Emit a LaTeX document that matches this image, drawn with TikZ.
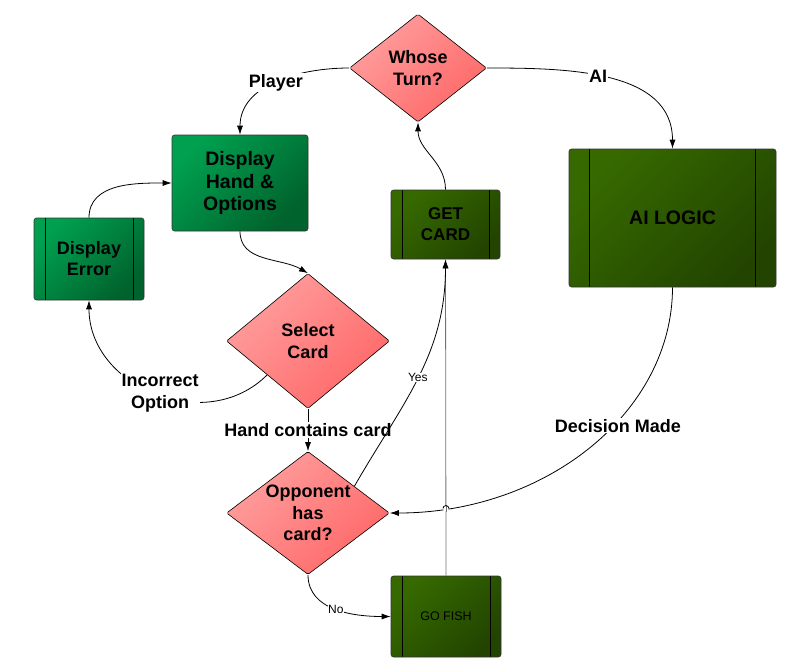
\documentclass[tikz,border=0pt]{standalone}
\usepackage{fontspec}
\setmainfont{Liberation Sans}
\usetikzlibrary{
  calc,
  positioning,
  arrows.meta,
  shapes.geometric,
  intersections}

\definecolor{pinkA}{RGB}{255,158,158}
\definecolor{pinkB}{RGB}{255,104,104}
\definecolor{greenA}{RGB}{0,160,80}
\definecolor{greenB}{RGB}{0,98,44}
\definecolor{oliveA}{RGB}{54,106,0}
\definecolor{oliveB}{RGB}{34,68,0}

\begin{document}
\begin{tikzpicture}[
  x=1pt, y=1pt,
  >={Latex[length=9pt,width=6pt]},
  line width=0.8pt,
  decision/.style={diamond,draw=black,line width=0.6pt,inner sep=0pt,rounded corners=1.5pt,
    top color=pinkA,bottom color=pinkB,shading angle=45,align=center,
    font=\bfseries\fontsize{18}{21.5}\selectfont},
  greenbox/.style={rectangle,draw=black!80,line width=0.6pt,rounded corners=2.5pt,
    top color=greenA,bottom color=greenB,shading angle=45,align=center,
    font=\bfseries\fontsize{18}{21}\selectfont},
  olivebox/.style={rectangle,draw=black!80,line width=0.6pt,rounded corners=2.5pt,
    top color=oliveA,bottom color=oliveB,shading angle=45,align=center,
    font=\bfseries\fontsize{17}{21}\selectfont},
  subproc/.style={path picture={
    \draw[black,line width=0.6pt]
      ($(path picture bounding box.north west)!0.1!(path picture bounding box.north east)$) --
      ($(path picture bounding box.south west)!0.1!(path picture bounding box.south east)$)
      ($(path picture bounding box.north east)!0.1!(path picture bounding box.north west)$) --
      ($(path picture bounding box.south east)!0.1!(path picture bounding box.south west)$);
  }},
  lbl/.style={fill=white,inner sep=1pt,align=center,font=\bfseries\fontsize{18}{22}\selectfont},
  smalllbl/.style={fill=white,inner sep=0.5pt,font=\fontsize{12}{14}\selectfont}
]%
  \useasboundingbox (0,0) rectangle (786,-664);

  % decisions
  \node[decision,aspect=1.27,minimum width=137pt,minimum height=108pt] (turn) at (418,-68) {Whose\\Turn?};
  \node[decision,aspect=1.21,minimum width=163pt,minimum height=135pt] (sel) at (308,-341) {Select\\Card};
  \node[decision,aspect=1.32,minimum width=163pt,minimum height=123pt] (opp) at (308,-513) {Opponent\\has\\card?};

  % boxes
  \node[greenbox,minimum width=136pt,minimum height=96pt,font=\bfseries\fontsize{19.5}{22.5}\selectfont] (hand) at (240,-183) {Display\\Hand \&\\Options};
  \node[greenbox,subproc,minimum width=110pt,minimum height=82pt] (err) at (89,-259) {Display\\Error};
  \node[olivebox,subproc,minimum width=109pt,minimum height=69pt] (get) at (445.5,-224.5) {GET\\CARD};
  \node[olivebox,subproc,minimum width=207pt,minimum height=138pt,font=\bfseries\fontsize{19.5}{22}\selectfont] (ai) at (672.5,-218) {AI LOGIC};
  \node[olivebox,subproc,minimum width=110pt,minimum height=81pt,font=\fontsize{12.5}{15}\selectfont] (fish) at (446,-616.5) {GO FISH};

  % connectors
  \draw[->] (turn.west) to[out=180,in=90] node[lbl]{Player} (hand.north);
  \draw[->] (turn.east) to[out=0,in=90] node[lbl,pos=0.45]{AI} (ai.north);
  \draw[->] (hand.south) to[out=-90,in=150] (sel.north);
  \draw[->] (err.north) to[out=90,in=180] (hand.west);
  \draw[->] (sel.south west) to[out=-135,in=-90,looseness=1.15] node[lbl,xshift=5pt]{Incorrect\\Option} (err.south);
  \draw[->] (sel.south) -- node[lbl]{Hand contains card} (opp.north);
  \draw[->,black!55,name path=fishline] (fish.north) -- (get.south);
  \draw[->] (opp.30) to[out=60,in=-90] node[smalllbl]{Yes} (get.south);
  \draw[->] (get.north) to[out=90,in=-90] (turn.south);
  \draw[->,name path=decline] (ai.south) .. controls +(0,-125) and +(156,0) .. node[lbl,pos=0.4,yshift=-5pt]{Decision Made} (opp.east);
  \draw[->] (opp.south) to[out=-90,in=180] node[smalllbl]{No} (fish.west);

  % line hop
  \path[name intersections={of=fishline and decline,by=hop}];
  \fill[white] (hop) circle (3);
  \draw[black!55] ($(hop)+(0,3.5)$) -- ($(hop)+(0,-3.5)$);
  \draw ($(hop)+(3,0)$) arc[start angle=0,end angle=180,radius=3];

\end{tikzpicture}
\end{document}
